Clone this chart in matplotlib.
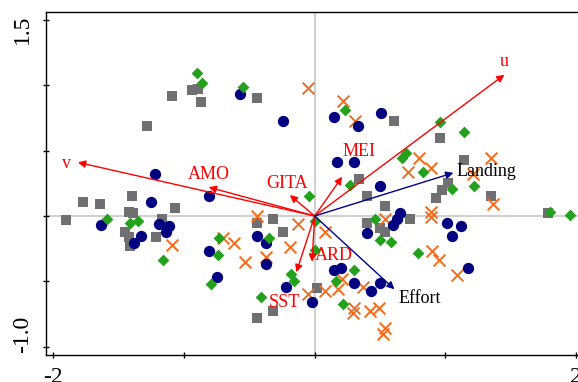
import matplotlib.pyplot as plt

plt.rcParams['font.family'] = ['Liberation Serif', 'DejaVu Serif']

# grupo 1 - quadrados cinza
sq_x = [-1.09, -0.94, -0.89, -0.87, -0.44, -1.28, -1.77, -1.64, -1.40, -1.07,
        -1.90, -1.42, -1.39, -1.17, -1.45, -1.42, -1.41, -1.21, -0.44, -0.32,
        -0.24, -0.44, -0.32, 0.61, 0.96, 0.34, 0.40, 0.54, 0.73, 0.40,
        0.50, 0.54, 1.14, 1.02, 0.97, 0.93, 1.35, 1.78, 0.02]
sq_y = [0.92, 0.96, 0.97, 0.87, 0.90, 0.69, 0.11, 0.09, 0.15, 0.06,
        -0.03, 0.03, 0.02, -0.02, -0.12, -0.16, -0.23, -0.16, -0.05, -0.02,
        -0.12, -0.78, -0.73, 0.73, 0.60, 0.28, 0.15, 0.08, -0.02, -0.05,
        -0.09, -0.12, 0.43, 0.25, 0.20, 0.14, 0.15, 0.02, -0.55]

# grupo 2 - circulos azul marinho
ci_x = [-0.57, -0.24, -1.22, -0.81, -1.25, -1.63, -1.19, -1.11, -1.14, -1.33,
        -1.38, -0.81, -0.75, -0.44, -0.37, -0.37, -0.22, -0.02, 0.15, 0.33,
        0.51, 0.17, 0.30, 0.50, 0.65, 0.63, 0.60, 0.40, 1.01, 1.12,
        1.05, 1.17, 0.15, 0.20, 0.30, 0.43, 0.50]
ci_y = [0.93, 0.73, 0.32, 0.15, 0.11, -0.07, -0.06, -0.08, -0.12, -0.15,
        -0.21, -0.27, -0.47, -0.15, -0.21, -0.37, -0.54, -0.66, 0.76, 0.69,
        0.79, 0.41, 0.41, 0.23, 0.02, -0.02, -0.07, -0.13, -0.05, -0.08,
        -0.15, -0.40, -0.41, -0.40, -0.51, -0.57, -0.51]

# grupo 3 - losangos verdes
di_x = [-0.90, -0.86, -0.55, -1.59, -1.41, -1.35, -1.16, -0.73, -0.74, -0.79,
        -0.35, -0.41, -0.18, -0.16, 0.00, 0.00, -0.04, 0.23, 0.96, 1.14,
        0.70, 0.67, 0.83, 0.27, 1.05, 1.22, 1.80, 1.95, 0.46, 0.50,
        0.58, 0.79, 0.30, 0.16, 0.22]
di_y = [1.09, 1.02, 0.99, -0.02, -0.05, -0.04, -0.34, -0.17, -0.30, -0.52,
        -0.17, -0.62, -0.44, -0.50, -0.04, -0.26, 0.15, 0.81, 0.72, 0.64,
        0.48, 0.44, 0.34, 0.24, 0.21, 0.23, 0.03, 0.01, -0.02, -0.18,
        -0.20, -0.28, -0.41, -0.50, -0.67]

# grupo 4 - x laranja
xx_x = [-0.05, 0.22, 0.31, 0.80, 0.71, 0.89, 1.35, 1.21, 1.36, 0.89,
        0.89, 0.54, -0.13, 0.08, -0.19, 0.90, 0.95, 1.09, 0.21, 0.08,
        0.18, -0.05, 0.37, 0.30, 0.29, 0.42, 0.49, 0.54, 0.52, -1.09,
        -0.70, -0.62, -0.53, -0.37, -0.44]
xx_y = [0.98, 0.88, 0.73, 0.44, 0.34, 0.37, 0.44, 0.32, 0.09, 0.03,
        -0.01, -0.02, -0.06, -0.12, -0.24, -0.27, -0.34, -0.45, -0.48, -0.57,
        -0.56, -0.60, -0.54, -0.70, -0.74, -0.73, -0.70, -0.86, -0.90, -0.22,
        -0.17, -0.21, -0.35, -0.31, 0.00]

# vetores ambientais (vermelho) e de pesca (azul)
env_nomes = ['u', 'v', 'AMO', 'GITA', 'MEI', 'ARD', 'SST']
env_x = [1.45, -1.81, -0.81, -0.19, 0.21, -0.02, -0.14]
env_y = [1.08, 0.41, 0.22, 0.16, 0.30, -0.35, -0.43]

pesca_nomes = ['Landing', 'Effort']
pesca_x = [1.06, 0.61]
pesca_y = [0.33, -0.56]

x_ticks = [-2, -1, 0, 1, 2]
x_rotulos = ['-2', '', '', '', '2']
y_ticks = [-1.0, -0.5, 0.0, 0.5, 1.0, 1.5]

fig = plt.figure(figsize=(5.78, 3.82), dpi=100)
ax = fig.add_axes([46 / 578, 27 / 382, 543 / 578, 343 / 382])
ax.set_xlim(-2.054, 2.097)
ax.set_ylim(-1.063, 1.560)

ax.axhline(0, color='#cccccc', lw=1.3, zorder=0)
ax.axvline(0, color='#cccccc', lw=1.3, zorder=0)

ax.scatter(sq_x, sq_y, marker='s', s=58, color='#707073', linewidths=0, zorder=2)
ax.scatter(xx_x, xx_y, marker='x', s=72, color='#f36c1c', linewidths=1.4, zorder=3)
ax.scatter(ci_x, ci_y, marker='o', s=66, color='#000080', linewidths=0, zorder=4)
ax.scatter(di_x, di_y, marker='D', s=36, color='#24a11c', linewidths=0, zorder=5)

# posicoes dos rotulos dos vetores
pos_env = [(1.45, 1.18), (-1.90, 0.40), (-0.81, 0.32), (-0.21, 0.25),
           (0.34, 0.49), (0.15, -0.30), (-0.23, -0.66)]
pos_pesca = [(1.31, 0.34), (0.80, -0.63)]

for nome, vx, vy, p in zip(env_nomes, env_x, env_y, pos_env):
    ax.annotate('', xy=(vx, vy), xytext=(0, 0),
                arrowprops=dict(arrowstyle='-|>', color='red', lw=1.0,
                                mutation_scale=11, shrinkA=0, shrinkB=0), zorder=6)
    ax.text(p[0], p[1], nome, color='red', fontsize=13, ha='center', va='center', zorder=7)

for nome, vx, vy, p in zip(pesca_nomes, pesca_x, pesca_y, pos_pesca):
    ax.annotate('', xy=(vx, vy), xytext=(0, 0),
                arrowprops=dict(arrowstyle='-|>', color='#00008b', lw=1.0,
                                mutation_scale=11, shrinkA=0, shrinkB=0), zorder=6)
    ax.text(p[0], p[1], nome, color='black', fontsize=13, ha='center', va='center', zorder=7)

ax.set_xticks(x_ticks)
ax.set_xticklabels(x_rotulos)
ax.set_yticks(y_ticks)
ax.set_yticklabels([''] * len(y_ticks))
ax.tick_params(direction='inout', length=5, width=1, labelsize=17)
ax.tick_params(axis='x', pad=6)

ytr = ax.get_yaxis_transform()
ax.text(-0.024, 1.54, '1.5', rotation=90, fontsize=17, ha='right', va='top', transform=ytr)
ax.text(-0.024, -1.046, '-1.0', rotation=90, fontsize=17, ha='right', va='bottom', transform=ytr)

for s in ax.spines.values():
    s.set_linewidth(1)

fig.savefig('out.png', dpi=100)
